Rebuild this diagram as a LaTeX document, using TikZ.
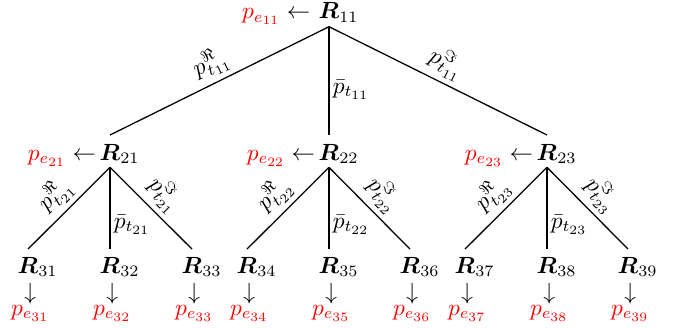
\documentclass[tikz,border=0pt]{standalone}
\usepackage{fix-cm}
\usepackage{amsmath,amssymb,bm}
\DeclareMathSizes{11}{11}{7.5}{6}
\begin{document}
\begin{tikzpicture}[x=0.47pt,y=-0.47pt,
  every node/.style={font=\fontsize{11}{13}\selectfont},
  rn/.style={inner sep=0pt,anchor=base},
  pel/.style={inner sep=0pt,anchor=base east},
  pen/.style={inner sep=0pt,anchor=base,text=red},
  darr/.style={inner sep=0pt},
  edge/.style={line width=0.6pt},
  sl/.style={sloped,above,pos=0.5,inner sep=2.2pt},
  vl/.style={right,inner sep=1.5pt}]
\useasboundingbox (0,0) rectangle (681,327);
% level 1
\node[rn] (R11) at (329,18.5) {$\bm{R}\rlap{$_{11}$}$};
\node[pel] (pe11) at ([xshift=-3.6pt]R11.base west) {$\textcolor{red}{p_{e_{11}}}\leftarrow$};
% level 2
\foreach \j/\x in {1/110,2/329,3/547}{
  \node[rn] (R2\j) at (\x,160) {$\bm{R}\rlap{$_{2\j}$}$};
  \node[pel] (pe2\j) at ([xshift=-1.4pt]R2\j.base west) {$\textcolor{red}{p_{e_{2\j}}}\leftarrow$};
}
% level 3
\foreach \i/\x in {1/28,2/110,3/192,4/247,5/329,6/410,7/465,8/547,9/628}{
  \node[rn] (R3\i) at (\x,273) {$\bm{R}\rlap{$_{3\i}$}$};
  \node[darr] (d3\i) at ([xshift=1pt]\x,294) {$\downarrow$};
  \node[pen] (pe3\i) at ([xshift=1pt]\x,315) {$p_{e_{3\i}}$};
}
% edges level 1
\draw[edge] ([yshift=-2pt]R11.south) -- ([yshift=4pt]R21.north) node[sl] {$p^{\Re}_{t_{11}}$};
\draw[edge] ([yshift=-2pt]R11.south) -- ([yshift=4pt]R22.north) node[vl,pos=0.58] {$\bar{p}_{t_{11}}$};
\draw[edge] ([yshift=-2pt]R11.south) -- ([yshift=4pt]R23.north) node[sl] {$p^{\Im}_{t_{11}}$};
% edges level 2
\foreach \j/\a/\b/\c in {1/1/2/3,2/4/5/6,3/7/8/9}{
  \draw[edge] ([yshift=-1.6pt]R2\j.south) -- ([yshift=3.5pt]R3\a.north) node[sl] {$p^{\Re}_{t_{2\j}}$};
  \draw[edge] ([yshift=-1.6pt]R2\j.south) -- ([yshift=3.5pt]R3\b.north) node[vl,pos=0.7] {$\bar{p}_{t_{2\j}}$};
  \draw[edge] ([yshift=-1.6pt]R2\j.south) -- ([yshift=3.5pt]R3\c.north) node[sl] {$p^{\Im}_{t_{2\j}}$};
}
\end{tikzpicture}
\end{document}
